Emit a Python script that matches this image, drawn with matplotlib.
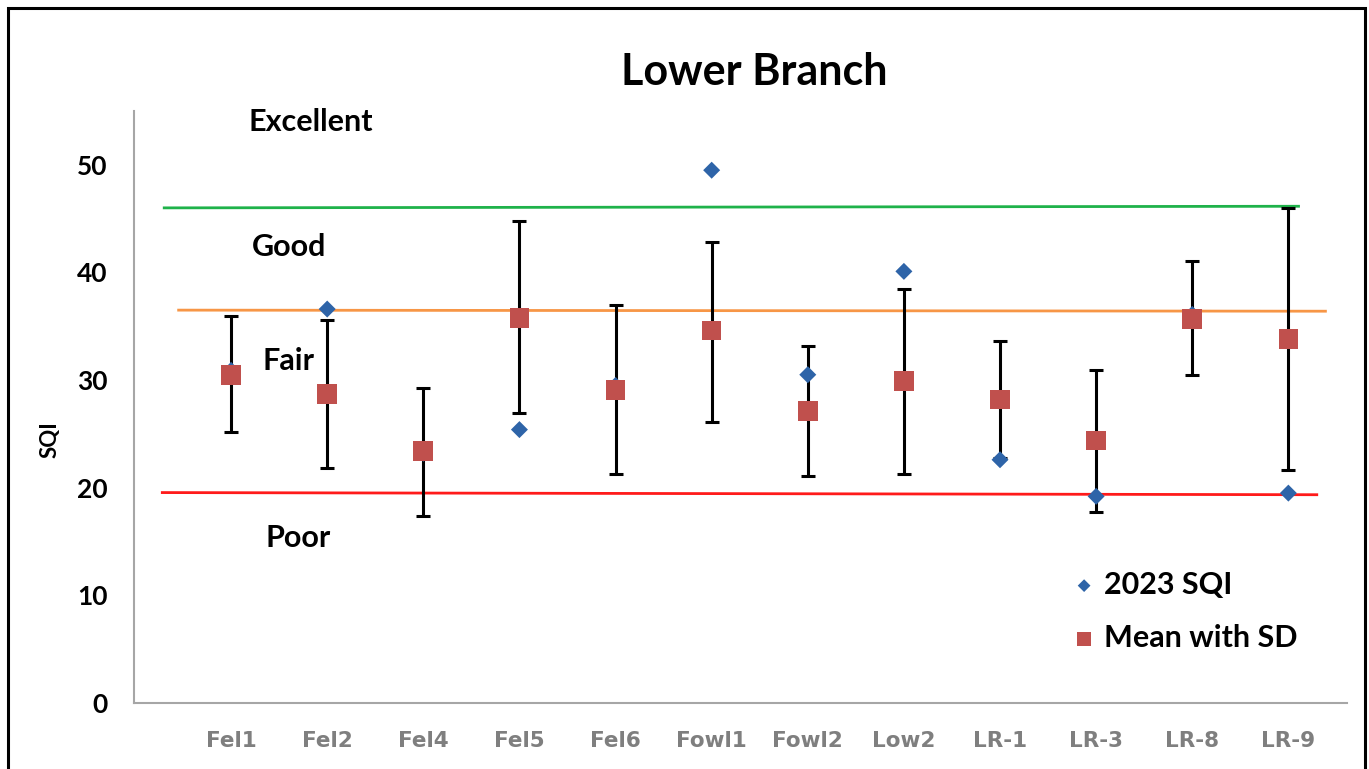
import matplotlib
matplotlib.use("Agg")
import matplotlib.pyplot as plt
from matplotlib.patches import Rectangle

sites = ["Fel1", "Fel2", "Fel4", "Fel5", "Fel6", "Fowl1", "Fowl2", "Low2",
         "LR-1", "LR-3", "LR-8", "LR-9"]
sqi_2023 = [30.9, 36.6, 23.2, 25.4, 29.5, 49.5, 30.5, 40.1, 22.6, 19.2, 36.1, 19.5]
mean_sqi = [30.5, 28.7, 23.4, 35.75, 29.1, 34.6, 27.1, 29.9, 28.2, 24.4, 35.7, 33.8]
sd_upper = [36.0, 35.6, 29.3, 44.8, 36.95, 42.8, 33.2, 38.5, 33.6, 30.9, 41.1, 46.0]
sd_lower = [25.2, 21.8, 17.4, 26.95, 21.25, 26.1, 21.1, 21.25, 22.8, 17.7, 30.5, 21.65]

# class thresholds: (name, level at left end, level at right end, colour, x start, x end)
thresholds = [
    ("Excellent/Good", 46.0, 46.15, "#1fb24a", -0.71, 11.12),
    ("Good/Fair", 36.5, 36.4, "#f79646", -0.56, 11.40),
    ("Fair/Poor", 19.55, 19.35, "#ff1a1a", -0.73, 11.31),
]
class_labels = [("Excellent", 54.0), ("Good", 42.4), ("Fair", 31.8), ("Poor", 15.3)]
class_label_x = [0.83, 0.6, 0.6, 0.7]

y_ticks = [0, 10, 20, 30, 40, 50]

FONT = ["Lato", "DejaVu Sans"]
plt.rcParams["font.family"] = FONT

fig = plt.figure(figsize=(13.69, 7.69), dpi=100)
ax = fig.add_axes([134 / 1369, 66 / 769, (1347 - 134) / 1369, (703 - 111) / 769])

x = list(range(len(sites)))

for _, y0, y1, col, xs, xe in thresholds:
    ax.plot([xs, xe], [y0, y1], color=col, lw=2.0, zorder=1, solid_capstyle="butt")

yerr_lo = [m - lo for m, lo in zip(mean_sqi, sd_lower)]
yerr_hi = [hi - m for m, hi in zip(mean_sqi, sd_upper)]
ax.errorbar(x, mean_sqi, yerr=[yerr_lo, yerr_hi], fmt="none", ecolor="black",
            elinewidth=2.2, capsize=5, capthick=2.2, zorder=2)
ax.scatter(x, sqi_2023, marker="D", s=75, color="#2e64a8", edgecolor="none",
           zorder=3, label="2023 SQI")
ax.scatter(x, mean_sqi, marker="s", s=200, color="#c0504d", edgecolor="none",
           zorder=4, label="Mean with SD")

for (txt, yv), xv in zip(class_labels, class_label_x):
    ax.text(xv, yv, txt, ha="center", va="center", fontsize=22, fontweight="bold",
            color="black", zorder=5)

ax.set_xlim(-1.01, 11.61)
ax.set_ylim(0, 55)
ax.set_xticks(x)
ax.set_xticklabels(sites, fontsize=15.5, fontweight="bold", color="#7f7f7f",
                   family=["DejaVu Sans"])
ax.set_yticks(y_ticks)
ax.set_yticklabels([str(v) for v in y_ticks], fontsize=19, fontweight="bold")
ax.tick_params(axis="both", length=0)
ax.tick_params(axis="x", pad=20)
ax.tick_params(axis="y", pad=19)
for s in ("top", "right"):
    ax.spines[s].set_visible(False)
for s in ("left", "bottom"):
    ax.spines[s].set_color("#a6a6a6")
    ax.spines[s].set_linewidth(1.5)

fig.text(50 / 1369, 1 - 440 / 769, "SQI", rotation=90, ha="center", va="center",
         fontsize=16, fontweight="bold")
fig.text(754 / 1369, 1 - 72 / 769, "Lower Branch", ha="center", va="center",
         fontsize=31, fontweight="bold")

leg = ax.legend(loc="upper left", bbox_to_anchor=(0.748, 0.27), frameon=False,
                prop={"weight": "bold", "size": 22},
                handletextpad=0.15, labelspacing=0.83, handlelength=1.0,
                markerscale=0.75)

# outer frame around the chart
fig.patches.append(Rectangle((8 / 1369, -0.01), (1365 - 8) / 1369, 1 - 8 / 769 + 0.01,
                             transform=fig.transFigure, fill=False,
                             edgecolor="black", lw=2.2))

fig.savefig("out.png", dpi=100)
